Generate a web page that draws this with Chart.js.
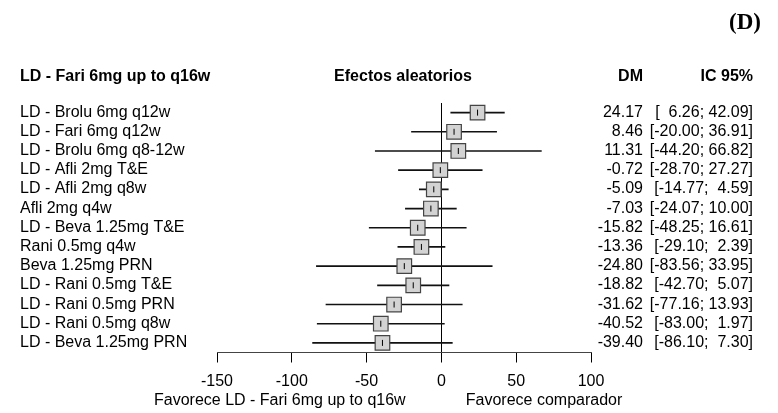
<!DOCTYPE html>
<html>
<head>
<meta charset="utf-8">
<script src="https://cdn.jsdelivr.net/npm/chart.js@4/dist/chart.umd.min.js"></script>
<style>
  html, body { margin: 0; padding: 0; background: #fff; }
  #wrap { width: 778px; height: 413px; position: relative; }
</style>
</head>
<body>
<div id="wrap"><canvas id="chart"></canvas></div>
<script>
const comparisons = [
  "LD - Brolu 6mg q12w",
  "LD - Fari 6mg q12w",
  "LD - Brolu 6mg q8-12w",
  "LD - Afli 2mg T&E",
  "LD - Afli 2mg q8w",
  "Afli 2mg q4w",
  "LD - Beva 1.25mg T&E",
  "Rani 0.5mg q4w",
  "Beva 1.25mg PRN",
  "LD - Rani 0.5mg T&E",
  "LD - Rani 0.5mg PRN",
  "LD - Rani 0.5mg q8w",
  "LD - Beva 1.25mg PRN",
];
const meanDiff = [24.17, 8.46, 11.31, -0.72, -5.09, -7.03, -15.82, -13.36, -24.80, -18.82, -31.62, -40.52, -39.40];
const ciLower = [6.26, -20.00, -44.20, -28.70, -14.77, -24.07, -48.25, -29.10, -83.56, -42.70, -77.16, -83.00, -86.10];
const ciUpper = [42.09, 36.91, 66.82, 27.27, 4.59, 10.00, 16.61, 2.39, 33.95, 5.07, 13.93, 1.97, 7.30];
const xTicks = [-150, -100, -50, 0, 50, 100];

const FONT = "'Liberation Sans', Arial, sans-serif";

function fmt(v, width) {
  return v.toFixed(2).padStart(width, " ");
}

const textPlugin = {
  id: "forestText",
  afterDraw(chart) {
    const ctx = chart.ctx;
    const y = chart.scales.y;
    const x = chart.scales.x;
    ctx.save();
    ctx.fillStyle = "#000";
    ctx.textBaseline = "alphabetic";

    // headers
    ctx.font = "bold 16px " + FONT;
    ctx.textAlign = "left";
    ctx.fillText("LD - Fari 6mg up to q16w", 20, 81);
    ctx.textAlign = "center";
    ctx.fillText("Efectos aleatorios", 403, 81);
    ctx.textAlign = "right";
    ctx.fillText("DM", 643, 81);
    ctx.fillText("IC 95%", 753, 81);

    ctx.font = "16px " + FONT;
    comparisons.forEach((name, i) => {
      const py = y.getPixelForValue(i) + 4;
      ctx.textAlign = "left";
      ctx.fillText(name, 20, py);
      ctx.textAlign = "right";
      ctx.fillText(meanDiff[i].toFixed(2), 643, py);
      ctx.fillText("[" + fmt(ciLower[i], 6) + "; " + fmt(ciUpper[i], 5) + "]", 753, py);
    });

    // axis side titles
    ctx.textAlign = "center";
    ctx.fillText("Favorece LD - Fari 6mg up to q16w", x.getPixelForValue(-108), 405);
    ctx.fillText("Favorece comparador", x.getPixelForValue(68.6), 405);

    ctx.font = "bold 23px 'Liberation Serif', 'Times New Roman', serif";
    ctx.fillText("(D)", 745, 29);
    ctx.restore();
  },
};

new Chart(document.getElementById("chart"), {
  type: "bar",
  data: {
    labels: comparisons,
    datasets: [
      {
        type: "scatter",
        order: 0,
        data: meanDiff.map((v, i) => ({ x: v, y: i })),
        pointStyle: "line",
        rotation: 90,
        pointRadius: 3,
        borderColor: "#000",
        borderWidth: 1,
      },
      {
        type: "scatter",
        order: 1,
        data: meanDiff.map((v, i) => ({ x: v, y: i })),
        pointStyle: "rect",
        pointRadius: 10.3,
        backgroundColor: "#d3d3d3",
        borderColor: "#444",
        borderWidth: 1.2,
      },
      {
        order: 2,
        data: ciLower.map((lo, i) => [lo, ciUpper[i]]),
        backgroundColor: "#111",
        barThickness: 1,
      },
    ],
  },
  options: {
    indexAxis: "y",
    responsive: true,
    maintainAspectRatio: false,
    animation: false,
    layout: { padding: { left: 217, right: 187, top: 103, bottom: 0 } },
    plugins: { legend: { display: false }, tooltip: { enabled: false } },
    scales: {
      y: { type: "category", display: false, offset: true },
      x: {
        type: "linear",
        min: -150,
        max: 100,
        afterBuildTicks: (s) => { s.ticks = xTicks.map((v) => ({ value: v })); },
        afterFit: (s) => { s.height = 60.5; },
        ticks: { color: "#000", font: { family: FONT, size: 16 }, padding: 9, maxRotation: 0 },
        grid: {
          drawOnChartArea: true,
          color: (c) => (c.tick && c.tick.value === 0 ? "#000" : "rgba(0,0,0,0)"),
          tickColor: "#000",
          tickLength: 10,
          lineWidth: 1,
        },
        border: { color: "#444", width: 1 },
      },
    },
  },
  plugins: [textPlugin],
});
</script>
</body>
</html>
